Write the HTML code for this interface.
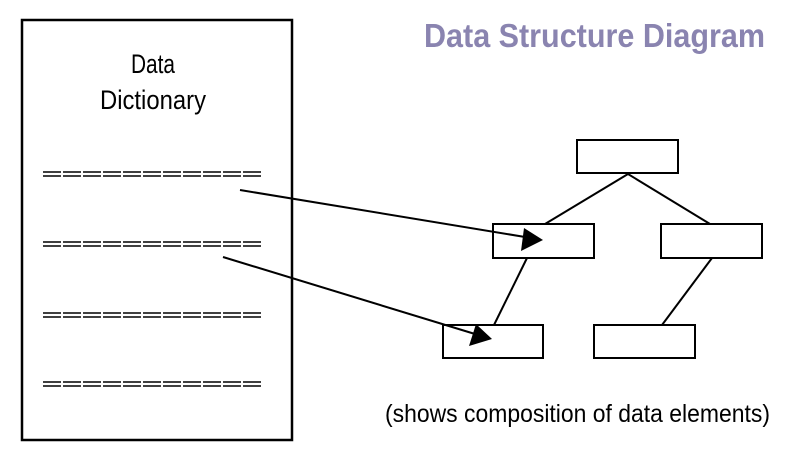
<!DOCTYPE html>
<html><head><style>
body{margin:0;background:#fff;width:797px;height:449px;overflow:hidden}
svg{display:block}
</style></head><body>
<svg width="797" height="449" viewBox="0 0 797 449" xmlns="http://www.w3.org/2000/svg">
<rect x="22" y="20" width="270" height="420" fill="none" stroke="#000" stroke-width="2.5"/>
<text x="153" y="73" font-family="Liberation Sans, sans-serif" font-size="27" text-anchor="middle" textLength="44" lengthAdjust="spacingAndGlyphs">Data</text>
<text x="153" y="109" font-family="Liberation Sans, sans-serif" font-size="27" text-anchor="middle" textLength="106" lengthAdjust="spacingAndGlyphs">Dictionary</text>
<g stroke="#000" stroke-width="1.5" stroke-dasharray="18 2">
<line x1="43" y1="172" x2="263" y2="172"/><line x1="43" y1="176" x2="263" y2="176"/>
<line x1="43" y1="242" x2="263" y2="242"/><line x1="43" y1="246" x2="263" y2="246"/>
<line x1="43" y1="313" x2="263" y2="313"/><line x1="43" y1="317" x2="263" y2="317"/>
<line x1="43" y1="382" x2="263" y2="382"/><line x1="43" y1="386" x2="263" y2="386"/>
</g>
<text x="765" y="47" font-family="Liberation Sans, sans-serif" font-size="33" font-weight="bold" fill="#8a84b0" text-anchor="end" textLength="341" lengthAdjust="spacingAndGlyphs">Data Structure Diagram</text>
<g fill="none" stroke="#000" stroke-width="2">
<rect x="577" y="140" width="101" height="33"/>
<rect x="493" y="224" width="101" height="34"/>
<rect x="661" y="224" width="101" height="34"/>
<rect x="443" y="325" width="100" height="33"/>
<rect x="594" y="325" width="101" height="33"/>
<line x1="628" y1="174" x2="545" y2="224"/>
<line x1="628" y1="174" x2="710" y2="224"/>
<line x1="527" y1="258" x2="494" y2="325"/>
<line x1="712" y1="258" x2="662" y2="325"/>
<line x1="240" y1="190" x2="525" y2="237"/>
<line x1="223" y1="257" x2="475" y2="334"/>
</g>
<polygon points="543,240 521,251 524,228" fill="#000"/>
<polygon points="492,339 469,346 476,324" fill="#000"/>
<text x="770" y="422" font-family="Liberation Sans, sans-serif" font-size="25" text-anchor="end" textLength="385" lengthAdjust="spacingAndGlyphs">(shows composition of data elements)</text>
</svg>
</body></html>
